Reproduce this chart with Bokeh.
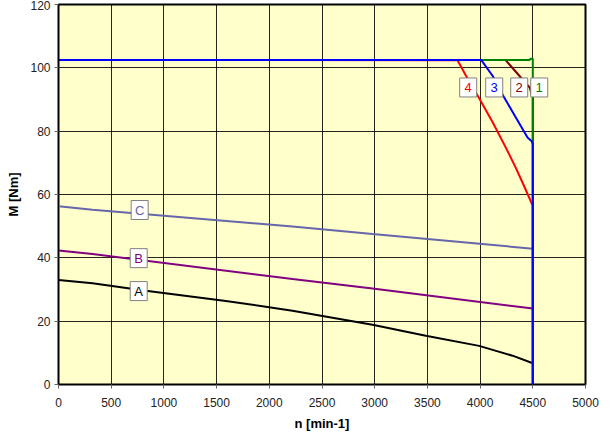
from bokeh.plotting import figure
from bokeh.models import FixedTicker, Range1d, Label, ColumnDataSource
from bokeh.core.properties import value
from bokeh.embed import file_html
from bokeh.resources import INLINE

# ---- data ----
x_ticks = [0, 500, 1000, 1500, 2000, 2500, 3000, 3500, 4000, 4500, 5000]
y_ticks = [0, 20, 40, 60, 80, 100, 120]

a_n = [0, 323, 829, 1588, 2220, 2979, 3485, 3991, 4308, 4500]
a_m = [33.0, 32.0, 29.6, 26.4, 23.3, 18.9, 15.4, 12.2, 9.1, 6.7]

b_n = [0, 323, 2220, 2979, 4500]
b_m = [42.3, 41.2, 33.3, 30.3, 24.0]

c_n = [0, 323, 2220, 2979, 4500]
c_m = [56.3, 55.2, 49.9, 47.5, 42.9]

c4_n = [0, 3786, 3865, 3991, 4118, 4244, 4339, 4418, 4481, 4500, 4500]
c4_m = [102.5, 102.4, 97.6, 90.4, 82.9, 74.8, 68.4, 62.6, 57.8, 56.5, 0]

c2_n = [0, 4240, 4470, 4500, 4500]
c2_m = [102.5, 102.5, 93.8, 90.5, 0]

c1_n = [0, 4470, 4480, 4500, 4500]
c1_m = [102.5, 102.5, 102.9, 102.9, 0]

c3_n = [0, 4010, 4118, 4229, 4339, 4450, 4490, 4500, 4500]
c3_m = [102.5, 102.5, 97.5, 90.6, 84.3, 78.0, 76.8, 76.0, 0]

label_text = ["A", "B", "C", "4", "3", "2", "1"]
label_n = [761, 761, 770, 3887, 4134, 4371, 4561]
label_m = [29.5, 39.9, 55.1, 93.8, 93.8, 93.8, 93.8]
label_color = ["#000000", "#800080", "#6666aa", "#ff0000", "#0000ff", "#800000", "#008000"]

title_text = "MKD112D-058 (100K)"

# ---- figure ----
p = figure(width=599, height=440, output_backend="svg", toolbar_location=None,
           x_range=Range1d(0, 5000), y_range=Range1d(0, 120),
           min_border_left=58, min_border_right=14, min_border_top=4, min_border_bottom=56)
p.background_fill_color = "#ffffcc"
p.border_fill_color = "white"
p.outline_line_color = "black"
p.outline_line_width = 2

for ax in (p.xaxis[0], p.yaxis[0]):
    ax.major_label_text_font = "Liberation Sans"
    ax.major_label_text_font_size = "12px"
    ax.major_label_text_color = "#222222"
    ax.axis_label_text_font = "Liberation Sans"
    ax.axis_label_text_font_size = "13px"
    ax.axis_label_text_font_style = "bold"
    ax.axis_label_text_color = "black"
    ax.axis_line_color = "black"
    ax.major_tick_in = 0
    ax.major_tick_out = 4
    ax.major_tick_line_color = "#666666"
    ax.minor_tick_line_color = None

p.xaxis.ticker = FixedTicker(ticks=x_ticks)
p.yaxis.ticker = FixedTicker(ticks=y_ticks)
p.xaxis.axis_label = "n [min-1]"
p.yaxis.axis_label = "M [Nm]"
p.xaxis.major_label_standoff = 9
p.yaxis.major_label_standoff = 4
p.xaxis.axis_label_standoff = 6
p.yaxis.axis_label_standoff = 6

p.xgrid.ticker = FixedTicker(ticks=x_ticks)
p.ygrid.ticker = FixedTicker(ticks=y_ticks)
p.grid.grid_line_color = "black"
p.grid.grid_line_alpha = 0.85
p.grid.grid_line_width = 1

p.line(a_n, a_m, line_color="black", line_width=2)
p.line(b_n, b_m, line_color="#800080", line_width=2)
p.line(c_n, c_m, line_color="#6666aa", line_width=2)
p.line(c4_n, c4_m, line_color="#ff0000", line_width=2)
p.line(c2_n, c2_m, line_color="#800000", line_width=2)
p.line(c1_n, c1_m, line_color="#008000", line_width=2)
p.line(c3_n, c3_m, line_color="#0000ff", line_width=2)

src = ColumnDataSource(dict(x=label_n, y=label_m, t=label_text, c=label_color))
p.rect(x="x", y="y", width=17, height=19, width_units="screen", height_units="screen",
       source=src, fill_color="white", line_color="#808080", line_width=1)
p.text(x="x", y="y", text="t", text_color="c", source=src,
       text_font=value("Liberation Sans"), text_font_size="13px",
       text_align="center", text_baseline="middle")

p.add_layout(Label(x=2500, y=120, y_offset=1, text=title_text, text_align="center",
                   text_baseline="bottom", text_font="Liberation Sans",
                   text_font_size="13px", text_font_style="bold"))

open("out.html", "w").write(file_html(p, INLINE))
